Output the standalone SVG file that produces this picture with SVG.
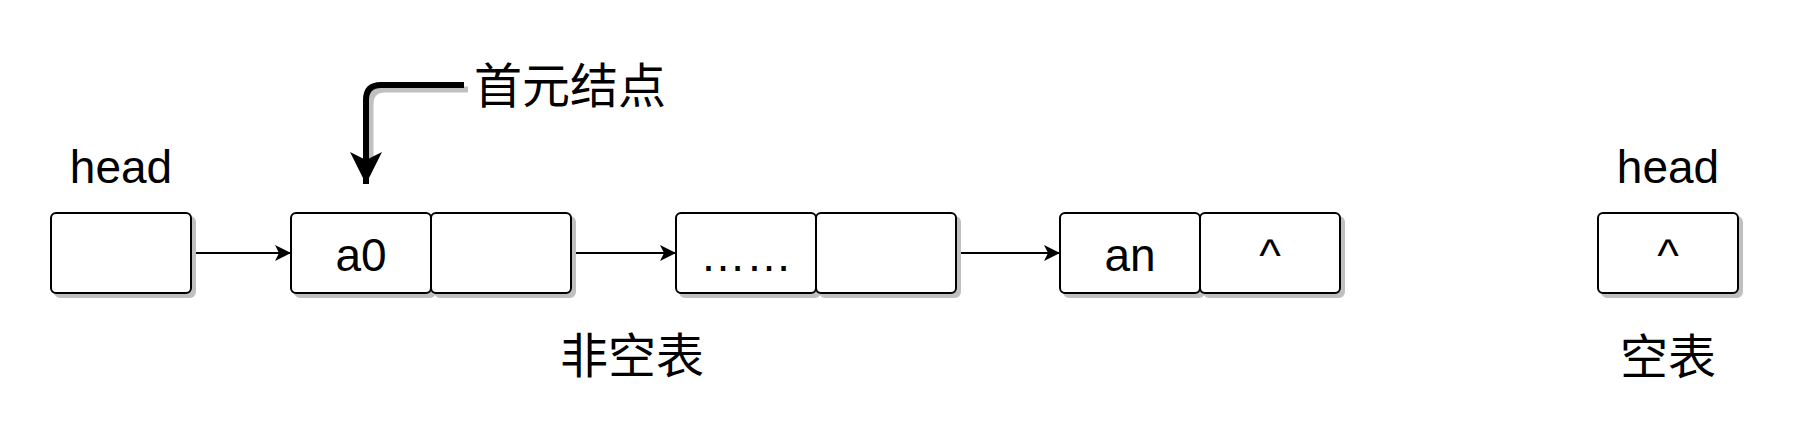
<svg xmlns="http://www.w3.org/2000/svg" width="1794" height="432" viewBox="0 0 1794 432">
<style>
.box{fill:#fff;stroke:#000;stroke-width:2}
.shadow{fill:#c0c0c0;stroke:#c0c0c0;stroke-width:2}
.lbl{font-family:"Liberation Sans",Arial,sans-serif;font-size:46px;fill:#000;text-anchor:middle}
.cjk{font-family:"Noto Sans CJK SC","Noto Sans",sans-serif;font-size:48px;fill:#000}
.link{fill:none;stroke:#000;stroke-width:2}
.thick{fill:none;stroke:#000;stroke-width:6}
.thickshadow{fill:none;stroke:#c0c0c0;stroke-width:6}
</style>
<defs>
<marker id="arr" markerUnits="userSpaceOnUse" viewBox="0 0 16 16" refX="16" refY="8" markerWidth="16" markerHeight="16" orient="auto">
<path d="M0,0 L16,8 L0,16 L4,8 Z" fill="#000"/>
</marker>
<marker id="bigarr" markerUnits="userSpaceOnUse" viewBox="0 0 32 32" refX="32" refY="16" markerWidth="32" markerHeight="32" orient="auto">
<path d="M0,0 L32,16 L0,32 L8,16 Z" fill="#000"/>
</marker>
</defs>
<rect width="1794" height="432" fill="#fff"/>

<g id="connectors">
<line class="link" x1="191" y1="253" x2="291" y2="253" marker-end="url(#arr)"/>
<line class="link" x1="571" y1="253" x2="676" y2="253" marker-end="url(#arr)"/>
<line class="link" x1="956" y1="253" x2="1060" y2="253" marker-end="url(#arr)"/>
<path class="thickshadow" d="M468,89.5 L385,89.5 Q370.5,89.5 370.5,104 L370.5,158"/>
<path class="thick" d="M464,85 L381,85 Q366,85 366,100 L366,184" marker-end="url(#bigarr)"/>
</g>

<g id="head">
<rect class="shadow" x="55" y="217" width="140" height="80" rx="5"/>
<rect class="box" x="51" y="213" width="140" height="80" rx="5"/>
</g>
<g id="head-label"><text class="lbl" x="121" y="183">head</text></g>

<g id="a0">
<rect class="shadow" x="295" y="217" width="140" height="80" rx="5"/>
<rect class="box" x="291" y="213" width="140" height="80" rx="5"/>
<text class="lbl" x="361" y="271">a0</text>
</g>
<g id="a0-next">
<rect class="shadow" x="435" y="217" width="140" height="80" rx="5"/>
<rect class="box" x="431" y="213" width="140" height="80" rx="5"/>
</g>

<g id="mid">
<rect class="shadow" x="680" y="217" width="140" height="80" rx="5"/>
<rect class="box" x="676" y="213" width="140" height="80" rx="5"/>
<text class="lbl" x="746" y="271">……</text>
</g>
<g id="mid-next">
<rect class="shadow" x="820" y="217" width="140" height="80" rx="5"/>
<rect class="box" x="816" y="213" width="140" height="80" rx="5"/>
</g>

<g id="an">
<rect class="shadow" x="1064" y="217" width="140" height="80" rx="5"/>
<rect class="box" x="1060" y="213" width="140" height="80" rx="5"/>
<text class="lbl" x="1130" y="271">an</text>
</g>
<g id="an-next">
<rect class="shadow" x="1204" y="217" width="140" height="80" rx="5"/>
<rect class="box" x="1200" y="213" width="140" height="80" rx="5"/>
<text class="lbl" x="1270" y="271">^</text>
</g>

<g id="empty-head">
<rect class="shadow" x="1602" y="217" width="140" height="80" rx="5"/>
<rect class="box" x="1598" y="213" width="140" height="80" rx="5"/>
<text class="lbl" x="1668" y="271">^</text>
</g>
<g id="empty-head-label"><text class="lbl" x="1668" y="183">head</text></g>

<g id="first-node-label"><text class="cjk" x="474" y="103">首元结点</text></g>
<g id="nonempty-label"><text class="cjk" x="632" y="373" text-anchor="middle">非空表</text></g>
<g id="empty-label"><text class="cjk" x="1668" y="374" text-anchor="middle">空表</text></g>
</svg>
